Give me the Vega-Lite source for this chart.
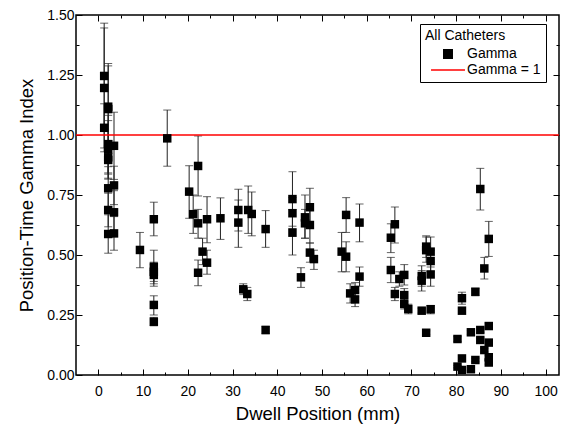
{
  "$schema": "https://vega.github.io/schema/vega-lite/v6.json",
  "width": 483,
  "height": 360,
  "autosize": "none",
  "padding": {"left": 76, "top": 15, "right": 10, "bottom": 57},
  "background": "white",
  "config": {
    "view": {"stroke": "black", "strokeWidth": 1.5},
    "font": "Liberation Sans",
    "axis": {"domain": false, "grid": false, "tickColor": "black", "labelColor": "black", "titleColor": "black", "labelFont": "Liberation Sans", "titleFont": "Liberation Sans", "labelFontSize": 14, "titleFontSize": 18.5, "titleFontWeight": "normal", "tickWidth": 1}
  },
  "datasets": {
    "pts": [
      {"x": 1.3, "y": 1.246, "lo": 1.026, "hi": 1.466, "series": "Gamma"},
      {"x": 1.3, "y": 1.196, "lo": 0.946, "hi": 1.446, "series": "Gamma"},
      {"x": 2.2, "y": 1.118, "lo": 0.938, "hi": 1.298, "series": "Gamma"},
      {"x": 2.2, "y": 1.108, "lo": 0.928, "hi": 1.288, "series": "Gamma"},
      {"x": 1.3, "y": 1.03, "lo": 0.93, "hi": 1.13, "series": "Gamma"},
      {"x": 2.2, "y": 0.962, "lo": 0.842, "hi": 1.082, "series": "Gamma"},
      {"x": 3.5, "y": 0.955, "lo": 0.815, "hi": 1.095, "series": "Gamma"},
      {"x": 2.2, "y": 0.94, "lo": 0.82, "hi": 1.06, "series": "Gamma"},
      {"x": 2.2, "y": 0.907, "lo": 0.837, "hi": 0.977, "series": "Gamma"},
      {"x": 2.2, "y": 0.896, "lo": 0.816, "hi": 0.976, "series": "Gamma"},
      {"x": 2.2, "y": 0.778, "lo": 0.688, "hi": 0.868, "series": "Gamma"},
      {"x": 3.5, "y": 0.79, "lo": 0.71, "hi": 0.87, "series": "Gamma"},
      {"x": 2.2, "y": 0.6875, "lo": 0.6175, "hi": 0.7575, "series": "Gamma"},
      {"x": 3.5, "y": 0.678, "lo": 0.588, "hi": 0.768, "series": "Gamma"},
      {"x": 2.2, "y": 0.5875, "lo": 0.5075, "hi": 0.6675, "series": "Gamma"},
      {"x": 3.5, "y": 0.59, "lo": 0.52, "hi": 0.66, "series": "Gamma"},
      {"x": 9.3, "y": 0.521, "lo": 0.447, "hi": 0.594, "series": "Gamma"},
      {"x": 12.4, "y": 0.649, "lo": 0.58, "hi": 0.72, "series": "Gamma"},
      {"x": 12.4, "y": 0.451, "lo": 0.39, "hi": 0.52, "series": "Gamma"},
      {"x": 12.4, "y": 0.43, "lo": 0.38, "hi": 0.47, "series": "Gamma"},
      {"x": 12.4, "y": 0.417, "lo": 0.37, "hi": 0.46, "series": "Gamma"},
      {"x": 12.4, "y": 0.292, "lo": 0.25, "hi": 0.33, "series": "Gamma"},
      {"x": 12.4, "y": 0.222, "lo": 0.205, "hi": 0.24, "series": "Gamma"},
      {"x": 15.4, "y": 0.986, "lo": 0.87, "hi": 1.104, "series": "Gamma"},
      {"x": 20.3, "y": 0.764, "lo": 0.653, "hi": 0.872, "series": "Gamma"},
      {"x": 21.2, "y": 0.67, "lo": 0.59, "hi": 0.75, "series": "Gamma"},
      {"x": 22.3, "y": 0.871, "lo": 0.746, "hi": 0.996, "series": "Gamma"},
      {"x": 22.3, "y": 0.632, "lo": 0.57, "hi": 0.69, "series": "Gamma"},
      {"x": 22.3, "y": 0.426, "lo": 0.372, "hi": 0.479, "series": "Gamma"},
      {"x": 23.3, "y": 0.514, "lo": 0.46, "hi": 0.57, "series": "Gamma"},
      {"x": 24.3, "y": 0.649, "lo": 0.551, "hi": 0.743, "series": "Gamma"},
      {"x": 24.3, "y": 0.468, "lo": 0.42, "hi": 0.52, "series": "Gamma"},
      {"x": 27.3, "y": 0.653, "lo": 0.565, "hi": 0.738, "series": "Gamma"},
      {"x": 31.3, "y": 0.6875, "lo": 0.6, "hi": 0.774, "series": "Gamma"},
      {"x": 31.3, "y": 0.635, "lo": 0.532, "hi": 0.729, "series": "Gamma"},
      {"x": 33.5, "y": 0.6875, "lo": 0.59, "hi": 0.7875, "series": "Gamma"},
      {"x": 34.3, "y": 0.671, "lo": 0.58, "hi": 0.7625, "series": "Gamma"},
      {"x": 32.4, "y": 0.357, "lo": 0.335, "hi": 0.38, "series": "Gamma"},
      {"x": 33.3, "y": 0.3375, "lo": 0.31, "hi": 0.365, "series": "Gamma"},
      {"x": 37.4, "y": 0.608, "lo": 0.532, "hi": 0.685, "series": "Gamma"},
      {"x": 37.4, "y": 0.1875, "lo": 0.172, "hi": 0.203, "series": "Gamma"},
      {"x": 43.4, "y": 0.733, "lo": 0.62, "hi": 0.847, "series": "Gamma"},
      {"x": 43.4, "y": 0.674, "lo": 0.61, "hi": 0.74, "series": "Gamma"},
      {"x": 43.4, "y": 0.593, "lo": 0.5, "hi": 0.69, "series": "Gamma"},
      {"x": 45.3, "y": 0.407, "lo": 0.365, "hi": 0.447, "series": "Gamma"},
      {"x": 46.2, "y": 0.657, "lo": 0.57, "hi": 0.75, "series": "Gamma"},
      {"x": 46.2, "y": 0.632, "lo": 0.57, "hi": 0.69, "series": "Gamma"},
      {"x": 47.3, "y": 0.699, "lo": 0.62, "hi": 0.778, "series": "Gamma"},
      {"x": 47.3, "y": 0.625, "lo": 0.55, "hi": 0.7, "series": "Gamma"},
      {"x": 47.3, "y": 0.51, "lo": 0.47, "hi": 0.55, "series": "Gamma"},
      {"x": 48.2, "y": 0.483, "lo": 0.44, "hi": 0.52, "series": "Gamma"},
      {"x": 54.4, "y": 0.514, "lo": 0.43, "hi": 0.594, "series": "Gamma"},
      {"x": 55.4, "y": 0.667, "lo": 0.594, "hi": 0.739, "series": "Gamma"},
      {"x": 55.4, "y": 0.493, "lo": 0.43, "hi": 0.555, "series": "Gamma"},
      {"x": 56.3, "y": 0.34, "lo": 0.3, "hi": 0.38, "series": "Gamma"},
      {"x": 57.4, "y": 0.354, "lo": 0.325, "hi": 0.385, "series": "Gamma"},
      {"x": 57.4, "y": 0.315, "lo": 0.285, "hi": 0.345, "series": "Gamma"},
      {"x": 58.4, "y": 0.635, "lo": 0.555, "hi": 0.7125, "series": "Gamma"},
      {"x": 58.4, "y": 0.41, "lo": 0.37, "hi": 0.45, "series": "Gamma"},
      {"x": 65.4, "y": 0.572, "lo": 0.51, "hi": 0.63, "series": "Gamma"},
      {"x": 66.3, "y": 0.628, "lo": 0.55, "hi": 0.7, "series": "Gamma"},
      {"x": 65.4, "y": 0.4375, "lo": 0.385, "hi": 0.49, "series": "Gamma"},
      {"x": 67.3, "y": 0.4, "lo": 0.37, "hi": 0.43, "series": "Gamma"},
      {"x": 68.4, "y": 0.417, "lo": 0.375, "hi": 0.46, "series": "Gamma"},
      {"x": 66.3, "y": 0.3375, "lo": 0.31, "hi": 0.365, "series": "Gamma"},
      {"x": 68.4, "y": 0.333, "lo": 0.305, "hi": 0.36, "series": "Gamma"},
      {"x": 68.4, "y": 0.296, "lo": 0.275, "hi": 0.315, "series": "Gamma"},
      {"x": 69.3, "y": 0.275, "lo": 0.255, "hi": 0.295, "series": "Gamma"},
      {"x": 72.3, "y": 0.4125, "lo": 0.37, "hi": 0.455, "series": "Gamma"},
      {"x": 72.3, "y": 0.393, "lo": 0.35, "hi": 0.435, "series": "Gamma"},
      {"x": 72.3, "y": 0.268, "lo": 0.258, "hi": 0.278, "series": "Gamma"},
      {"x": 73.3, "y": 0.535, "lo": 0.49, "hi": 0.58, "series": "Gamma"},
      {"x": 73.3, "y": 0.52, "lo": 0.47, "hi": 0.575, "series": "Gamma"},
      {"x": 73.3, "y": 0.176, "lo": 0.168, "hi": 0.184, "series": "Gamma"},
      {"x": 74.3, "y": 0.514, "lo": 0.45, "hi": 0.575, "series": "Gamma"},
      {"x": 74.3, "y": 0.475, "lo": 0.43, "hi": 0.52, "series": "Gamma"},
      {"x": 74.3, "y": 0.419, "lo": 0.37, "hi": 0.47, "series": "Gamma"},
      {"x": 74.3, "y": 0.274, "lo": 0.255, "hi": 0.29, "series": "Gamma"},
      {"x": 80.3, "y": 0.15, "lo": 0.14, "hi": 0.16, "series": "Gamma"},
      {"x": 80.3, "y": 0.035, "lo": 0.03, "hi": 0.04, "series": "Gamma"},
      {"x": 81.3, "y": 0.32, "lo": 0.295, "hi": 0.345, "series": "Gamma"},
      {"x": 81.3, "y": 0.268, "lo": 0.258, "hi": 0.278, "series": "Gamma"},
      {"x": 81.3, "y": 0.069, "lo": 0.06, "hi": 0.08, "series": "Gamma"},
      {"x": 81.3, "y": 0.021, "lo": 0.015, "hi": 0.027, "series": "Gamma"},
      {"x": 83.3, "y": 0.178, "lo": 0.17, "hi": 0.186, "series": "Gamma"},
      {"x": 83.3, "y": 0.024, "lo": 0.018, "hi": 0.03, "series": "Gamma"},
      {"x": 84.3, "y": 0.347, "lo": 0.33, "hi": 0.36, "series": "Gamma"},
      {"x": 84.3, "y": 0.0625, "lo": 0.055, "hi": 0.07, "series": "Gamma"},
      {"x": 85.4, "y": 0.775, "lo": 0.6875, "hi": 0.861, "series": "Gamma"},
      {"x": 85.4, "y": 0.1875, "lo": 0.178, "hi": 0.197, "series": "Gamma"},
      {"x": 85.4, "y": 0.146, "lo": 0.138, "hi": 0.154, "series": "Gamma"},
      {"x": 86.3, "y": 0.444, "lo": 0.4, "hi": 0.49, "series": "Gamma"},
      {"x": 86.3, "y": 0.104, "lo": 0.096, "hi": 0.112, "series": "Gamma"},
      {"x": 87.3, "y": 0.567, "lo": 0.494, "hi": 0.64, "series": "Gamma"},
      {"x": 87.3, "y": 0.204, "lo": 0.192, "hi": 0.216, "series": "Gamma"},
      {"x": 87.3, "y": 0.135, "lo": 0.125, "hi": 0.145, "series": "Gamma"},
      {"x": 87.3, "y": 0.074, "lo": 0.066, "hi": 0.082, "series": "Gamma"},
      {"x": 87.3, "y": 0.052, "lo": 0.045, "hi": 0.059, "series": "Gamma"}
    ],
    "ref": [{"series": "Gamma = 1", "v": 1}]
  },
  "layer": [
    {
      "data": {"name": "pts"},
      "mark": {"type": "rule", "color": "#222222", "strokeWidth": 1},
      "encoding": {
        "x": {"field": "x", "type": "quantitative", "scale": {"domain": [-5, 103], "nice": false, "zero": false},
          "axis": {"orient": "top", "values": [0,5,10,15,20,25,30,35,40,45,50,55,60,65,70,75,80,85,90,95,100], "labels": false, "title": null,
            "tickSize": {"condition": {"test": "datum.value % 10 === 0", "value": -6}, "value": -3}}},
        "y": {"field": "lo", "type": "quantitative", "scale": {"domain": [0, 1.5], "nice": false},
          "axis": {"orient": "right", "values": [0.125,0.25,0.375,0.5,0.625,0.75,0.875,1,1.125,1.25,1.375], "labels": false, "title": null,
            "tickSize": {"condition": {"test": "abs(datum.value*4 - round(datum.value*4)) < 0.001", "value": -6}, "value": -3}}},
        "y2": {"field": "hi"}
      }
    },
    {
      "data": {"name": "pts"},
      "mark": {"type": "tick", "orient": "horizontal", "color": "#222222", "thickness": 1, "size": 8},
      "encoding": {
        "x": {"field": "x", "type": "quantitative", "axis": null},
        "y": {"field": "lo", "type": "quantitative", "axis": null}
      }
    },
    {
      "data": {"name": "pts"},
      "mark": {"type": "tick", "orient": "horizontal", "color": "#222222", "thickness": 1, "size": 8},
      "encoding": {
        "x": {"field": "x", "type": "quantitative", "axis": null},
        "y": {"field": "hi", "type": "quantitative", "axis": null}
      }
    },
    {
      "data": {"name": "ref"},
      "mark": {"type": "rule", "strokeWidth": 1.5},
      "encoding": {
        "y": {"field": "v", "type": "quantitative", "axis": null},
        "color": {"field": "series", "type": "nominal", "scale": {"domain": ["Gamma", "Gamma = 1"], "range": ["black", "#ff0000"]}}
      }
    },
    {
      "data": {"name": "pts"},
      "mark": {"type": "point", "filled": true, "opacity": 1, "size": 72},
      "encoding": {
        "x": {"field": "x", "type": "quantitative",
          "axis": {"orient": "bottom", "values": [0,5,10,15,20,25,30,35,40,45,50,55,60,65,70,75,80,85,90,95,100], "title": "Dwell Position (mm)",
            "labelExpr": "datum.value % 10 === 0 ? datum.label : ''", "labelPadding": 15, "titlePadding": 6,
            "tickSize": {"condition": {"test": "datum.value % 10 === 0", "value": -6}, "value": -3}}},
        "y": {"field": "y", "type": "quantitative",
          "axis": {"orient": "left", "values": [0,0.125,0.25,0.375,0.5,0.625,0.75,0.875,1,1.125,1.25,1.375,1.5], "title": "Position-Time Gamma Index", "format": ".2f",
            "labelExpr": "abs(datum.value*4 - round(datum.value*4)) < 0.001 ? datum.label : ''", "labelPadding": 8, "titlePadding": 10,
            "tickSize": {"condition": {"test": "abs(datum.value*4 - round(datum.value*4)) < 0.001", "value": -6}, "value": -3}}},
        "color": {"field": "series", "type": "nominal", "scale": {"domain": ["Gamma", "Gamma = 1"], "range": ["black", "#ff0000"]},
          "legend": {"title": "All Catheters", "orient": "none", "legendX": 344, "legendY": 9, "strokeColor": "black", "fillColor": "white", "padding": 5,
            "titleFontSize": 14, "titleFontWeight": "normal", "titleColor": "black", "labelFontSize": 14, "labelColor": "black", "symbolStrokeWidth": 1.5, "symbolSize": 72, "symbolOffset": 16, "labelOffset": 12, "rowPadding": 1, "titlePadding": 4}},
        "shape": {"field": "series", "type": "nominal", "scale": {"domain": ["Gamma", "Gamma = 1"], "range": ["square", "M-4,0H4"]}}
      }
    }
  ],
  "resolve": {"axis": {"x": "independent", "y": "independent"}}
}
